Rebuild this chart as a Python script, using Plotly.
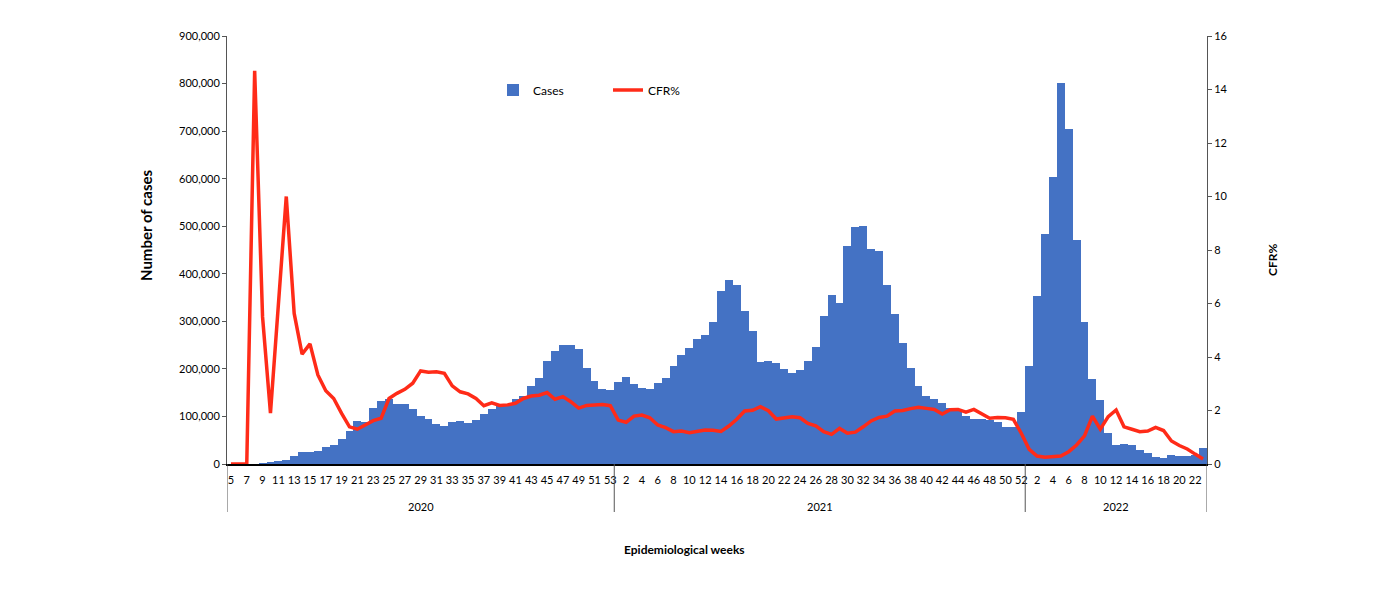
import plotly.graph_objects as go

# ---- data ----
years = ["2020", "2021", "2022"]
weeks_2020 = list(range(5, 54))
weeks_2021 = list(range(1, 53))
weeks_2022 = list(range(1, 24))

cases_2020 = [0, 0, 0, 0, 500, 3600, 5600, 8400, 17500, 25900,
              25200, 26600, 35000, 39200, 51900, 68700, 89700, 88300, 117000, 132500,
              137400, 125500, 126900, 116300, 101300, 94600, 84100, 79200, 88300, 91100,
              86900, 92500, 105000, 115000, 124000, 125500, 137400, 143000, 164000, 180000,
              216600, 237600, 250900, 249600, 242500, 201200, 174500, 157000, 155600]
cases_2021 = [173000, 183600, 168200, 160500, 157000, 169600, 181500, 206000, 229000, 243200,
              262800, 271900, 299200, 364400, 386900, 377000, 321700, 280300, 215100, 216600,
              211700, 200400, 190700, 197700, 217200, 245400, 311800, 354700, 339200, 459000,
              498400, 499800, 452000, 447900, 376400, 315400, 253800, 201900, 164000, 143000,
              136000, 129000, 117000, 115700, 101000, 94000, 94000, 92500, 88300, 78500,
              77100, 108700]
cases_2022 = [206700, 353300, 483600, 602800, 801800, 703800, 471000, 299200, 178000, 133900,
              65900, 40000, 42000, 40000, 29400, 22400, 15400, 11900, 18900, 16800,
              16800, 18900, 33000]

cfr_2020 = [0, 0, 0, 14.7, 5.5, 1.9, 6.0, 10.0, 5.63, 4.11,
            4.49, 3.33, 2.74, 2.45, 1.89, 1.39, 1.30, 1.46, 1.62, 1.71,
            2.45, 2.64, 2.79, 3.02, 3.48, 3.43, 3.45, 3.39, 2.92, 2.70,
            2.62, 2.45, 2.18, 2.29, 2.19, 2.21, 2.27, 2.45, 2.54, 2.57,
            2.67, 2.42, 2.52, 2.33, 2.09, 2.19, 2.21, 2.22, 2.18]
cfr_2021 = [1.64, 1.56, 1.79, 1.83, 1.73, 1.46, 1.36, 1.21, 1.23, 1.17,
            1.21, 1.27, 1.26, 1.22, 1.42, 1.67, 1.98, 2.01, 2.14, 1.99,
            1.68, 1.74, 1.77, 1.73, 1.52, 1.43, 1.21, 1.11, 1.33, 1.15,
            1.19, 1.39, 1.61, 1.74, 1.79, 1.98, 2.00, 2.07, 2.12, 2.08,
            2.04, 1.87, 2.03, 2.04, 1.94, 2.04, 1.87, 1.71, 1.74, 1.73,
            1.67, 1.15]
cfr_2022 = [0.55, 0.30, 0.25, 0.26, 0.30, 0.46, 0.71, 1.05, 1.79, 1.30,
            1.77, 2.02, 1.39, 1.30, 1.21, 1.23, 1.37, 1.25, 0.86, 0.69,
            0.56, 0.37, 0.19]

# ---- assemble ----
weeks = weeks_2020 + weeks_2021 + weeks_2022
cases = cases_2020 + cases_2021 + cases_2022
cfr = cfr_2020 + cfr_2021 + cfr_2022
x = list(range(len(weeks)))
seg_lens = [len(weeks_2020), len(weeks_2021), len(weeks_2022)]

FONT = "Lato"
BLUE = "#4472C4"
RED = "#FF2B18"

fig = go.Figure()
fig.add_trace(go.Bar(x=x, y=cases, name="Cases", marker=dict(color=BLUE, line=dict(width=0)),
                     yaxis="y"))
fig.add_trace(go.Scatter(x=x, y=cfr, name="CFR%", mode="lines",
                         line=dict(color=RED, width=3.5), yaxis="y2"))

tickvals = x[::2]
ticktext = [str(w) for w in weeks[::2]]

W, H = 1400, 604
OFF = 8  # page body margin
L, R, T, B = 227, 1207, 36, 464  # target plot area in screen pixels
fig.update_layout(
    width=W, height=H,
    margin=dict(l=L - OFF, r=W - R + OFF, t=T - OFF, b=H - B + OFF, pad=0),
    paper_bgcolor="white", plot_bgcolor="white",
    bargap=0,
    showlegend=True,
    legend=dict(orientation="h", x=(493 - L) / (R - L), y=(B - 90) / (B - T),
                xanchor="left", yanchor="middle", entrywidth=70,
                font=dict(family=FONT, size=12, color="#000"), bgcolor="rgba(0,0,0,0)"),
    font=dict(family=FONT, size=11, color="#000"),
    xaxis=dict(range=[-0.5, len(x) - 0.5], tickmode="array", tickvals=tickvals,
               ticktext=ticktext, ticks="", showline=True, linecolor="#000", linewidth=1.5,
               showgrid=False, zeroline=False, tickangle=0, ticklabelstandoff=5,
               tickfont=dict(family=FONT, size=11, color="#000")),
    yaxis=dict(range=[0, 900000], dtick=100000, tickformat=",", showline=True,
               linecolor="#555", linewidth=1, ticks="outside", ticklen=4, tickcolor="#555",
               showgrid=False, zeroline=False,
               tickfont=dict(family=FONT, size=11, color="#000")),
    yaxis2=dict(range=[0, 16], dtick=2, overlaying="y", side="right", showline=True,
                linecolor="#555", linewidth=1, ticks="outside", ticklen=4, tickcolor="#555",
                showgrid=False, zeroline=False,
                tickfont=dict(family=FONT, size=11, color="#000")),
)

# year dividers and labels
pd_h = B - T
div_bottom = -(512 - B) / pd_h
bounds = [-0.5]
for n in seg_lens:
    bounds.append(bounds[-1] + n)
for bx in bounds:
    fig.add_shape(type="line", xref="x", yref="paper", x0=bx, x1=bx, y0=0, y1=div_bottom,
                  line=dict(color="#555", width=1))
for i, yr in enumerate(years):
    fig.add_annotation(x=(bounds[i] + bounds[i + 1]) / 2, y=-(506 - B) / pd_h, xref="x",
                       yref="paper", text=yr, showarrow=False, yanchor="middle",
                       font=dict(family=FONT, size=11, color="#000"))

# axis titles
fig.add_annotation(x=(146 - L) / (R - L), y=(B - 226) / pd_h, xref="paper", yref="paper",
                   text="<b>Number of cases</b>", textangle=-90, showarrow=False,
                   xanchor="center", yanchor="middle",
                   font=dict(family=FONT, size=15, color="#000"))
fig.add_annotation(x=(1272 - L) / (R - L), y=(B - 260) / pd_h, xref="paper", yref="paper",
                   text="<b>CFR%</b>", textangle=-90, showarrow=False,
                   xanchor="center", yanchor="middle",
                   font=dict(family=FONT, size=12, color="#000"))
fig.add_annotation(x=(684 - L) / (R - L), y=-(549 - B) / pd_h, xref="paper", yref="paper",
                   text="<b>Epidemiological weeks</b>", showarrow=False,
                   xanchor="center", yanchor="middle",
                   font=dict(family=FONT, size=12, color="#000"))

fig.write_html("out.html")
